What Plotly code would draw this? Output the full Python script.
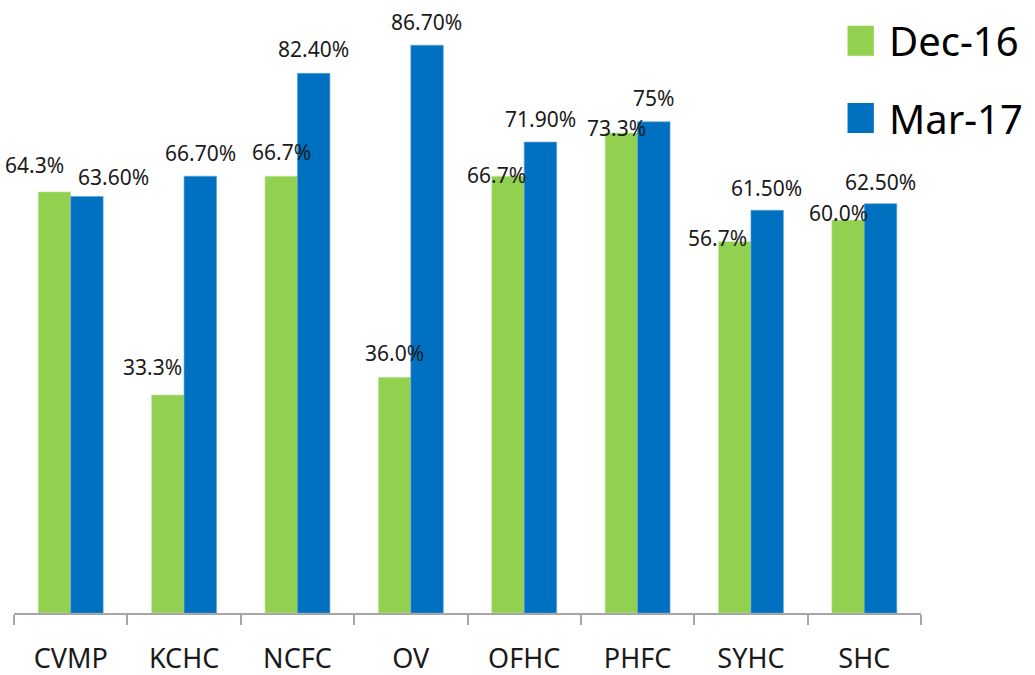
import plotly.graph_objects as go

# Data
sites = ["CVMP", "KCHC", "NCFC", "OV", "OFHC", "PHFC", "SYHC", "SHC"]
dec16 = [64.3, 33.3, 66.7, 36.0, 66.7, 73.3, 56.7, 60.0]
mar17 = [63.6, 66.7, 82.4, 86.7, 71.9, 75.0, 61.5, 62.5]
dec16_text = ["64.3%", "33.3%", "66.7%", "36.0%", "66.7%", "73.3%", "56.7%", "60.0%"]
mar17_text = ["63.60%", "66.70%", "82.40%", "86.70%", "71.90%", "75%", "61.50%", "62.50%"]

GREEN = "#92D050"
BLUE = "#0070C0"
FONT = "Noto Sans"

# label nudges in px (the original labels were dragged around by hand)
dec16_dx = [-20, -16, 0, 0, -12, -5, -17, -10]
dec16_dy = [27, 28, 24, 24, 1, 5, 4, 7]
mar17_dx = [27, 0, 0, 0, 0, 0, 0, 0]
mar17_dy = [19, 23, 24, 23, 23, 24, 22, 22]

fig = go.Figure()
fig.add_bar(x=sites, y=dec16, name="Dec-16", marker_color=GREEN,
            marker_line=dict(width=0.6, color="#c8e8a8"))
fig.add_bar(x=sites, y=mar17, name="Mar-17", marker_color=BLUE,
            marker_line=dict(width=0.6, color="#5fa3d8"))

half = 16  # half a bar width in px
for i, s in enumerate(sites):
    fig.add_annotation(x=s, y=dec16[i], text=dec16_text[i], showarrow=False,
                       xshift=-half + dec16_dx[i], yshift=dec16_dy[i], yanchor="middle",
                       font=dict(family=FONT, size=21, color="#1a1a1a"))
    fig.add_annotation(x=s, y=mar17[i], text=mar17_text[i], showarrow=False,
                       xshift=half + mar17_dx[i], yshift=mar17_dy[i], yanchor="middle",
                       font=dict(family=FONT, size=21, color="#1a1a1a"))

# legend drawn by hand so the swatches can be as large as in the original
for k, (name, col) in enumerate([("Dec-16", GREEN), ("Mar-17", BLUE)]):
    y0 = 0.958 - k * 0.126
    fig.add_shape(type="rect", xref="paper", yref="paper",
                  x0=0.919, x1=0.948, y0=y0 - 0.049, y1=y0,
                  fillcolor=col, line=dict(width=0))
    fig.add_annotation(xref="paper", yref="paper", x=0.963, y=y0 - 0.0245,
                       text=name, showarrow=False, xanchor="left", yanchor="middle",
                       font=dict(family=FONT, size=40, color="#000000"))

fig.update_layout(
    width=1035, height=675,
    margin=dict(l=14, r=114, t=0, b=62),
    paper_bgcolor="white", plot_bgcolor="white",
    barmode="group", bargap=0.427, bargroupgap=0,
    showlegend=False,
)
fig.update_xaxes(
    range=[-0.5, len(sites) - 0.5],
    showline=True, linecolor="#a6a6a6", linewidth=2,
    ticks="outside", tickson="boundaries", ticklen=10, tickwidth=2, tickcolor="#a6a6a6",
    showgrid=False, ticklabelstandoff=21,
    tickfont=dict(family=FONT, size=27, color="#1a1a1a"),
)
fig.update_yaxes(range=[0, 93.6], visible=False, showgrid=False)

# drop the browser's default body margin so the figure sits flush in the window
fig.write_html("out.html", config={"displayModeBar": False},
               post_script="document.body.style.margin='0';")
